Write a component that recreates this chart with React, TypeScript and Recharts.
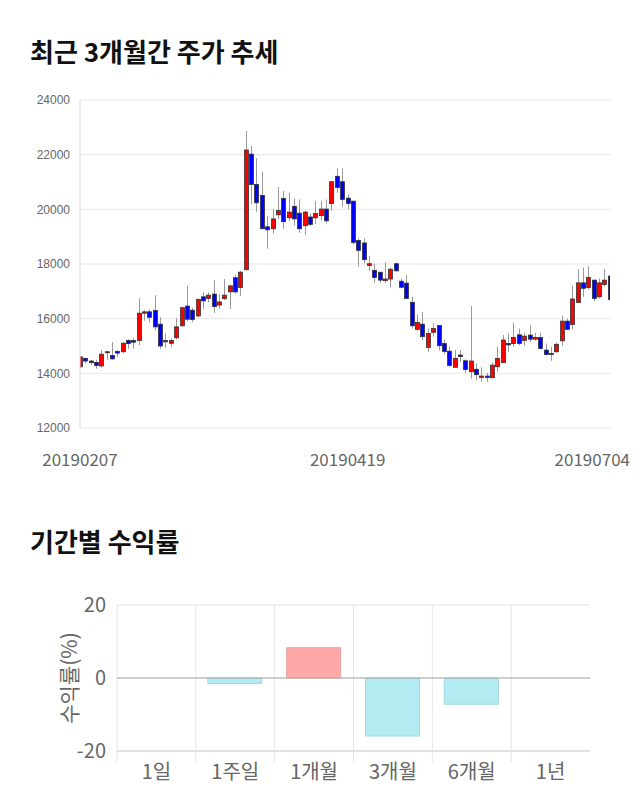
import React from 'react';
import { ComposedChart, Bar, XAxis, YAxis, CartesianGrid, BarChart, Cell, ReferenceLine } from 'recharts';

// ---- Price candles (daily) ----
const opens = [
  14240, 14550, 14450, 14400, 14270, 14780, 14650, 14800, 14790, 15200,
  15200, 15200, 16200, 16250, 16300, 15800, 15150, 15100, 15300, 15740,
  16460, 16310, 16100, 16800, 16740, 16900, 16500, 16730, 16980, 17500,
  17140, 17790, 22020, 20910, 20510, 19360, 19290, 19800, 20400, 19690,
  20110, 19860, 19400, 19720, 19690, 19770, 20010, 20210, 21210, 21010,
  20410, 20300, 18860, 18770, 17950, 17770, 17700, 17390, 17450, 18010,
  17370, 17300, 16600, 15610, 15800, 14950, 15500, 15750, 15090, 14810,
  14220, 14670, 14460, 14060, 14150, 13850, 13900, 13840, 14240, 14390,
  15090, 15090, 15410, 15200, 15400, 15250, 15310, 14850, 14730, 14790,
  15190, 15910, 15790, 16590, 17310, 17140, 17410, 16800, 17250, 17560,
];
const highs = [
  14620, 14560, 14500, 14500, 14850, 14800, 15140, 14850, 15140, 15250,
  15300, 16750, 16310, 16340, 16860, 16050, 15460, 15280, 16030, 16440,
  17200, 16400, 16740, 16960, 16960, 17410, 16890, 17450, 17250, 17600,
  17750, 22870, 22320, 21870, 21380, 19750, 20000, 20820, 20670, 20610,
  20400, 20360, 19950, 19850, 20300, 20300, 20360, 21010, 21500, 21500,
  20550, 20300, 18940, 18940, 18300, 18010, 17700, 18060, 17860, 18050,
  17470, 17600, 16800, 16150, 16250, 15640, 15830, 15750, 15240, 14970,
  14850, 14850, 14510, 16460, 14350, 14220, 14020, 14400, 14970, 15400,
  15460, 15850, 15640, 15480, 15760, 15490, 15490, 15090, 14970, 15130,
  16110, 16000, 17200, 17810, 17870, 17920, 17410, 17470, 17810, 17560,
];
const lows = [
  14200, 14360, 14300, 14170, 14210, 14500, 14480, 14600, 14730, 14900,
  14900, 15030, 15920, 15860, 15580, 14900, 14940, 14970, 15240, 15700,
  15910, 15870, 16040, 16360, 16600, 16210, 16360, 16680, 16350, 16920,
  16840, 17790, 20200, 19910, 19290, 18560, 19110, 19650, 19290, 19580,
  19410, 19140, 19060, 19390, 19460, 19610, 19490, 19950, 20610, 20100,
  20000, 18720, 17900, 18020, 17750, 17310, 17310, 17310, 17140, 17720,
  17110, 16740, 15640, 15560, 15220, 14790, 15340, 14830, 14700, 14240,
  14220, 14420, 14020, 13810, 13750, 13690, 13690, 13840, 14060, 14390,
  14790, 14970, 15030, 15010, 15150, 15200, 14870, 14650, 14460, 14750,
  15010, 15580, 15610, 16590, 16800, 17070, 16640, 16740, 17170, 16430,
];
const closes = [
  14600, 14450, 14390, 14290, 14700, 14790, 14530, 14740, 15100, 15090,
  15140, 16200, 16250, 16050, 15700, 15000, 15200, 15200, 15700, 16400,
  15980, 15970, 16700, 16650, 16860, 16440, 16610, 16860, 17200, 16980,
  17700, 22170, 20910, 20240, 19290, 19250, 19650, 19960, 19550, 19900,
  19650, 19290, 19900, 19450, 19850, 20010, 19580, 21010, 20800, 20360,
  20210, 18790, 18500, 18160, 18010, 17510, 17410, 17450, 17810, 17750,
  17150, 16740, 15740, 15860, 15340, 15460, 15640, 15010, 14800, 14290,
  14550, 14610, 14140, 14450, 13950, 13900, 13850, 14300, 14550, 15220,
  15040, 15310, 15090, 15360, 15250, 15310, 14910, 14690, 14720, 15060,
  15910, 15610, 16720, 17310, 17110, 17510, 16740, 17310, 17410, 16700,
];
const dateTickIndex = [0, 50, 99];
const dateTickLabels = ['20190207', '20190419', '20190704'];
const priceTicks = [12000, 14000, 16000, 18000, 20000, 22000, 24000];

// ---- Period returns ----
const periods = ['1일', '1주일', '1개월', '3개월', '6개월', '1년'];
const returns = [0, -1.5, 8.3, -15.9, -7.2, 0];
const returnTicks = [-20, 0, 20];

const candleData = opens.map((o, i) => ({
  i,
  open: o,
  high: highs[i],
  low: lows[i],
  close: closes[i],
  range: [lows[i], highs[i]],
}));
const returnData = periods.map((p, k) => ({ period: p, value: returns[k] }));

const KFONT = '"Noto Sans CJK KR", "Noto Sans", sans-serif';

const CandleShape = (props: any) => {
  let { x, y, width, height } = props;
  const { payload } = props;
  if (height < 0) { y += height; height = -height; }
  const { open, close, high, low } = payload;
  const cx = Math.round(x + width / 2) + 0.5;
  const span = high - low;
  const ppu = span > 0 ? height / span : 0;
  const yOf = (v: number) => y + (high - v) * ppu;
  const up = close >= open;
  const top = yOf(Math.max(open, close));
  const bot = yOf(Math.min(open, close));
  const bh = Math.max(bot - top, 1);
  return (
    <g>
      <line x1={cx} x2={cx} y1={y} y2={y + height} stroke="#999" strokeWidth={1} />
      <rect x={cx - 2} y={top} width={4} height={bh} fill={up ? '#ff0000' : '#0000ff'} stroke="#333" strokeWidth={0.8} />
    </g>
  );
};

const DateTick = (props: any) => {
  const { x, y, payload } = props;
  const k = dateTickIndex.indexOf(payload.value);
  const last = k === dateTickIndex.length - 1;
  return (
    <text x={x} y={y} dy={38} dx={last ? 20 : 0} textAnchor={last ? 'end' : 'middle'}
      fill="#666" fontSize={17} fontFamily={KFONT}>
      {dateTickLabels[k]}
    </text>
  );
};

const BOT_W = 640;
const BOT_MARGIN = { top: 25, right: 50, bottom: 19, left: 0 };
const BOT_YAXIS_W = 117;
const BOT_PLOT_W = BOT_W - BOT_MARGIN.right - BOT_MARGIN.left - BOT_YAXIS_W;

const PeriodTick = (props: any) => {
  const { x, y, payload } = props;
  const band = BOT_PLOT_W / periods.length;
  return (
    <g>
      <line x1={x - band / 2} x2={x - band / 2} y1={y} y2={y + 11} stroke="#e5e5e5" />
      <text x={x} y={y} dy={28} textAnchor="middle" fill="#666" fontSize={20} fontFamily={KFONT}>
        {payload.value}
      </text>
    </g>
  );
};

const YTitle = (props: any) => {
  const { viewBox } = props;
  const cy = viewBox.y + viewBox.height / 2;
  const cx = 68;
  return (
    <text x={cx} y={cy} transform={`rotate(-90, ${cx}, ${cy})`} textAnchor="middle"
      dominantBaseline="central" fill="#666" fontSize={21} fontFamily={KFONT}>
      수익률(%)
    </text>
  );
};

export default function App() {
  return (
    <div style={{ position: 'absolute', left: 0, top: 0, width: 640, height: 810, background: '#fff' }}>
      <svg width={640} height={810} style={{ position: 'absolute', left: 0, top: 0 }}>
        <text x={30} y={62} fontSize={26} fontWeight="bold" fill="#111" fontFamily={KFONT}>최근 3개월간 주가 추세</text>
        <text x={30} y={552} fontSize={26} fontWeight="bold" fill="#111" fontFamily={KFONT}>기간별 수익률</text>
      </svg>
      <div style={{ position: 'absolute', left: 0, top: 0 }}>
        <ComposedChart width={640} height={480} data={candleData}
          margin={{ top: 100, right: 30, bottom: 12, left: 0 }}>
          <CartesianGrid vertical={false} stroke="#e6e6e6" />
          <XAxis dataKey="i" type="number" domain={[0, 99]} allowDataOverflow ticks={dateTickIndex}
            interval={0} axisLine={false} tickLine={false} tickSize={0} tickMargin={0} height={40}
            tick={<DateTick />} />
          <YAxis domain={[12000, 24000]} ticks={priceTicks} width={80} axisLine={{ stroke: '#dedede' }}
            tickLine={false} tickSize={0} tickMargin={10} interval={0}
            tick={{ fill: '#666', fontSize: 12, fontFamily: '"Liberation Sans", Arial, sans-serif' }} />
          <Bar dataKey="range" barSize={5} shape={<CandleShape />} isAnimationActive={false} />
        </ComposedChart>
      </div>
      <div style={{ position: 'absolute', left: 0, top: 580 }}>
        <BarChart width={BOT_W} height={230} data={returnData} margin={BOT_MARGIN}>
          <CartesianGrid stroke="#e5e5e5"
            verticalCoordinatesGenerator={(p: any) => periods.map((_, k) => p.offset.left + (k * p.offset.width) / periods.length)} />
          <XAxis dataKey="period" axisLine={{ stroke: '#cfcfcf' }} tickLine={false} tickSize={0} tickMargin={0}
            height={40} interval={0} tick={<PeriodTick />} />
          <YAxis domain={[-20, 20]} ticks={returnTicks} width={BOT_YAXIS_W} axisLine={false} tickLine={false}
            tickSize={0} tickMargin={11} interval={0}
            tick={{ fill: '#666', fontSize: 20, fontFamily: KFONT }} label={<YTitle />} />
          <ReferenceLine y={0} stroke="#aaa" />
          <Bar dataKey="value" barSize={54} isAnimationActive={false}>
            {returnData.map((d, k) => (
              <Cell key={k} fill={d.value >= 0 ? '#ffa8a8' : '#b2ebf2'} stroke={d.value >= 0 ? '#e8a2a2' : '#a2d8e0'} />
            ))}
          </Bar>
        </BarChart>
      </div>
    </div>
  );
}
